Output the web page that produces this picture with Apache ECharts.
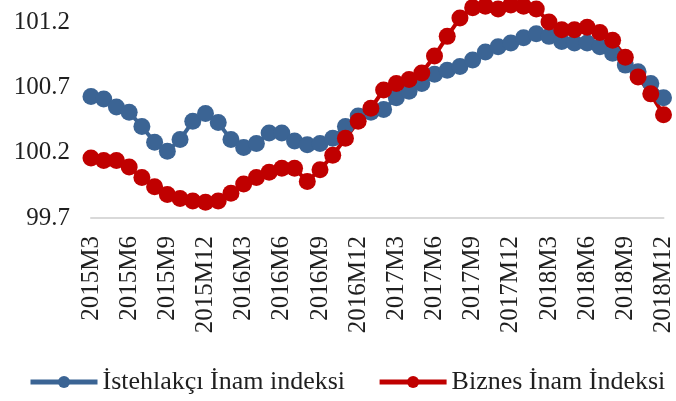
<!DOCTYPE html>
<html>
<head>
<meta charset="utf-8">
<script src="https://cdn.jsdelivr.net/npm/echarts@6/dist/echarts.min.js"></script>
<style>
  html, body { margin: 0; padding: 0; background: #fff; }
  #chart { width: 676px; height: 401px; }
</style>
</head>
<body>
<div id="chart"></div>
<script>
const months = [
  '2015M3','2015M4','2015M5','2015M6','2015M7','2015M8','2015M9','2015M10','2015M11','2015M12',
  '2016M1','2016M2','2016M3','2016M4','2016M5','2016M6','2016M7','2016M8','2016M9','2016M10','2016M11','2016M12',
  '2017M1','2017M2','2017M3','2017M4','2017M5','2017M6','2017M7','2017M8','2017M9','2017M10','2017M11','2017M12',
  '2018M1','2018M2','2018M3','2018M4','2018M5','2018M6','2018M7','2018M8','2018M9','2018M10','2018M11','2018M12'
];

const consumerIndex = [
  100.63, 100.61, 100.55, 100.51, 100.40, 100.28, 100.21, 100.30, 100.44, 100.50,
  100.43, 100.30, 100.24, 100.27, 100.35, 100.35, 100.29, 100.26, 100.27, 100.31, 100.40, 100.48,
  100.51, 100.53, 100.62, 100.67, 100.73, 100.80, 100.83, 100.86, 100.91, 100.97, 101.01, 101.04,
  101.08, 101.11, 101.09, 101.05, 101.04, 101.04, 101.01, 100.96, 100.87, 100.82, 100.73, 100.62
];

const businessIndex = [
  100.16, 100.14, 100.14, 100.09, 100.01, 99.94, 99.88, 99.85, 99.83, 99.82,
  99.83, 99.89, 99.96, 100.01, 100.05, 100.08, 100.08, 99.98, 100.07, 100.18, 100.31, 100.44,
  100.54, 100.68, 100.73, 100.76, 100.81, 100.94, 101.09, 101.23, 101.31, 101.32, 101.30, 101.33,
  101.32, 101.30, 101.20, 101.14, 101.14, 101.16, 101.12, 101.06, 100.93, 100.78, 100.65, 100.49
];

const seriesNames = ['İstehlakçı İnam indeksi', 'Biznes İnam İndeksi'];
const yTicks = { min: 99.7, max: 101.35, interval: 0.5 };

const font = '"Liberation Serif", "DejaVu Serif", serif';
const textColor = '#1f1f1f';
const blue = '#3b6494';
const red = '#c00000';

const chart = echarts.init(document.getElementById('chart'), null, { renderer: 'canvas' });

chart.setOption({
  animation: false,
  grid: { left: 91, right: 8, top: 2.4, bottom: 183 },
  legend: {
    top: 369,
    left: 28,
    width: 648,
    padding: 0,
    itemWidth: 67,
    itemHeight: 15,
    itemGap: 32,
    lineStyle: { width: 5 },
    textStyle: { fontFamily: font, fontSize: 26, color: textColor },
    data: seriesNames
  },
  xAxis: {
    type: 'category',
    data: months,
    boundaryGap: false,
    axisLine: { lineStyle: { color: '#d9d9d9', width: 2 } },
    axisTick: { show: false },
    axisLabel: {
      interval: 2,
      rotate: 90,
      margin: 18,
      fontFamily: font,
      fontSize: 25,
      color: textColor
    }
  },
  yAxis: {
    type: 'value',
    min: yTicks.min,
    max: yTicks.max,
    interval: yTicks.interval,
    axisLine: { show: false },
    axisTick: { show: false },
    splitLine: { show: false },
    axisLabel: {
      showMaxLabel: false,
      margin: 21,
      fontFamily: font,
      fontSize: 25,
      color: textColor,
      formatter: v => v.toFixed(1)
    }
  },
  series: [
    {
      name: seriesNames[0],
      type: 'line',
      data: consumerIndex,
      symbol: 'circle',
      symbolSize: 17,
      showAllSymbol: true,
      clip: false,
      lineStyle: { color: blue, width: 4 },
      itemStyle: { color: blue }
    },
    {
      name: seriesNames[1],
      type: 'line',
      data: businessIndex,
      symbol: 'circle',
      symbolSize: 17,
      showAllSymbol: true,
      clip: false,
      lineStyle: { color: red, width: 4 },
      itemStyle: { color: red }
    }
  ]
});
</script>
</body>
</html>
